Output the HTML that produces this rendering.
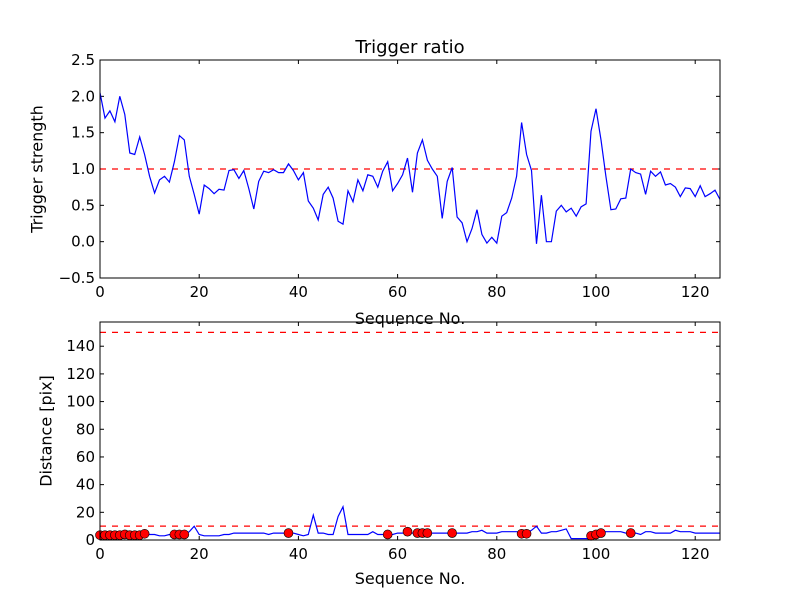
<!DOCTYPE html>
<html><head><meta charset="utf-8"><style>
body{margin:0;background:#fff}
svg{display:block;font-family:"DejaVu Sans","Liberation Sans",sans-serif}
</style></head><body>
<svg id="c" width="800" height="600"></svg>
<script>
const xTicks=[0,20,40,60,80,100,120];
const topYTicks=[-0.5,0,0.5,1,1.5,2,2.5];
const topYLabels=["\u22120.5","0.0","0.5","1.0","1.5","2.0","2.5"];
const botYTicks=[0,20,40,60,80,100,120,140];
const strength=[2.05,1.7,1.8,1.65,2.0,1.75,1.22,1.2,1.44,1.2,0.9,0.67,0.85,0.9,0.82,1.1,1.46,1.4,0.9,0.65,0.38,0.78,0.73,0.66,0.72,0.71,0.98,0.99,0.87,0.98,0.73,0.45,0.83,0.97,0.95,0.99,0.95,0.95,1.07,0.98,0.85,0.95,0.56,0.46,0.3,0.65,0.75,0.6,0.28,0.24,0.7,0.55,0.85,0.7,0.92,0.9,0.75,0.97,1.1,0.7,0.8,0.92,1.15,0.68,1.22,1.4,1.12,1.0,0.9,0.32,0.83,1.02,0.34,0.26,0.0,0.18,0.44,0.1,-0.02,0.06,-0.02,0.35,0.4,0.6,0.9,1.64,1.2,0.98,-0.03,0.64,0.0,0.0,0.42,0.5,0.41,0.46,0.35,0.48,0.52,1.52,1.83,1.4,0.9,0.44,0.45,0.59,0.6,1.0,0.95,0.93,0.65,0.97,0.9,0.96,0.78,0.8,0.75,0.62,0.74,0.73,0.62,0.77,0.62,0.66,0.71,0.58];
const strengthThreshold=1.0;
const distance=[3,3,3,3,3,4,3,3,3,4,4,4,3,3,4,3,4,4,6,10,4,3,3,3,3,4,4,5,5,5,5,5,5,5,4,5,5,5,5,5,4,3,4,18,5,5,4,4,17,24,4,4,4,4,4,6,4,4,4,4,5,5,6,5,5,5,5,5,5,5,5,5,5,5,5,6,6,7,5,5,5,6,6,6,6,5,5,7,10,5,5,6,6,7,8,1,1,1,1,1,4,5,6,6,6,6,5,5,5,4,6,6,5,5,5,5,7,6,6,6,5,5,5,5,5,5];
const dotIdx=[0,1,2,3,4,5,6,7,8,9,15,16,17,38,58,62,64,65,66,71,85,86,99,100,101,107];
const dotVal=[3.5,3.5,3.5,3.5,3.5,4,3.5,3.5,3.5,4.5,4,4,4,5,4,6,5,5,5,5,4.5,4.5,3,4,5,5];
const distThresholds=[10,150];

const NS="http://www.w3.org/2000/svg";
const svg=document.getElementById('c');
function mk(t,a,p){const e=document.createElementNS(NS,t);for(const k in a)e.setAttribute(k,a[k]);(p||svg).appendChild(e);return e;}
const X0=100,X1=720,XMAX=125;
const sx=v=>X0+v/XMAX*(X1-X0);
const T={y0:60,y1:278,min:-0.5,max:2.5};
const B={y0:322,y1:540,min:0,max:157.5};
const sy=(ax,v)=>ax.y1-(v-ax.min)/(ax.max-ax.min)*(ax.y1-ax.y0);

function axes(ax,yt,yl,name){
  const g=mk('g',{});
  
  
  xTicks.forEach(t=>{const x=sx(t);
    mk('line',{x1:x,x2:x,y1:ax.y1,y2:ax.y1-4,stroke:'#000'},g);
    mk('line',{x1:x,x2:x,y1:ax.y0,y2:ax.y0+4,stroke:'#000'},g);
    const tx=mk('text',{x:x,y:ax.y1+19,'text-anchor':'middle','font-size':'15'},g);tx.textContent=t;
    
    
  });
  yt.forEach((t,i)=>{const y=sy(ax,t);
    mk('line',{x1:X0,x2:X0+4,y1:y,y2:y,stroke:'#000'},g);
    mk('line',{x1:X1,x2:X1-4,y1:y,y2:y,stroke:'#000'},g);
    const tx=mk('text',{x:X0-5,y:y+5,'text-anchor':'end','font-size':'15'},g);tx.textContent=yl[i];
    
    
  });
  return g;
}
function pathOf(ax,vals){return vals.map((v,i)=>(i?'L':'M')+sx(i).toFixed(1)+','+sy(ax,v).toFixed(1)).join('');}

// top
axes(T,topYTicks,topYLabels,'top-axes');
let e=mk('line',{x1:X0,x2:X1,y1:sy(T,strengthThreshold),y2:sy(T,strengthThreshold),stroke:'#f00','stroke-dasharray':'6,6','stroke-width':1.2});


e=mk('path',{d:pathOf(T,strength),fill:'none',stroke:'#00f','stroke-width':1.2});


e=mk('rect',{x:X0,y:T.y0,width:X1-X0,height:T.y1-T.y0,fill:'none',stroke:'#000'});


e=mk('text',{x:410,y:53,'text-anchor':'middle','font-size':'18'});e.textContent='Trigger ratio';


e=mk('text',{x:37,y:169,'text-anchor':'middle','font-size':'16',transform:'rotate(-90 37 169)','dominant-baseline':'central'});e.textContent='Trigger strength';


e=mk('text',{x:410,y:324,'text-anchor':'middle','font-size':'16'});e.textContent='Sequence No.';



// bottom
axes(B,botYTicks,botYTicks.map(String),'bottom-axes');
distThresholds.forEach(t=>{const l=mk('line',{x1:X0,x2:X1,y1:sy(B,t),y2:sy(B,t),stroke:'#f00','stroke-dasharray':'6,6','stroke-width':1.2});
  
  });
e=mk('path',{d:pathOf(B,distance),fill:'none',stroke:'#00f','stroke-width':1.2});


dotIdx.forEach((d,i)=>{const c=mk('circle',{cx:sx(d),cy:sy(B,dotVal[i]),r:4.5,fill:'#f00',stroke:'#000','stroke-width':0.6});
  
  });
e=mk('rect',{x:X0,y:B.y0,width:X1-X0,height:B.y1-B.y0,fill:'none',stroke:'#000'});


e=mk('text',{x:46,y:431,'text-anchor':'middle','font-size':'16',transform:'rotate(-90 46 431)','dominant-baseline':'central'});e.textContent='Distance [pix]';


e=mk('text',{x:410,y:584,'text-anchor':'middle','font-size':'16'});e.textContent='Sequence No.';


</script>
</body></html>
